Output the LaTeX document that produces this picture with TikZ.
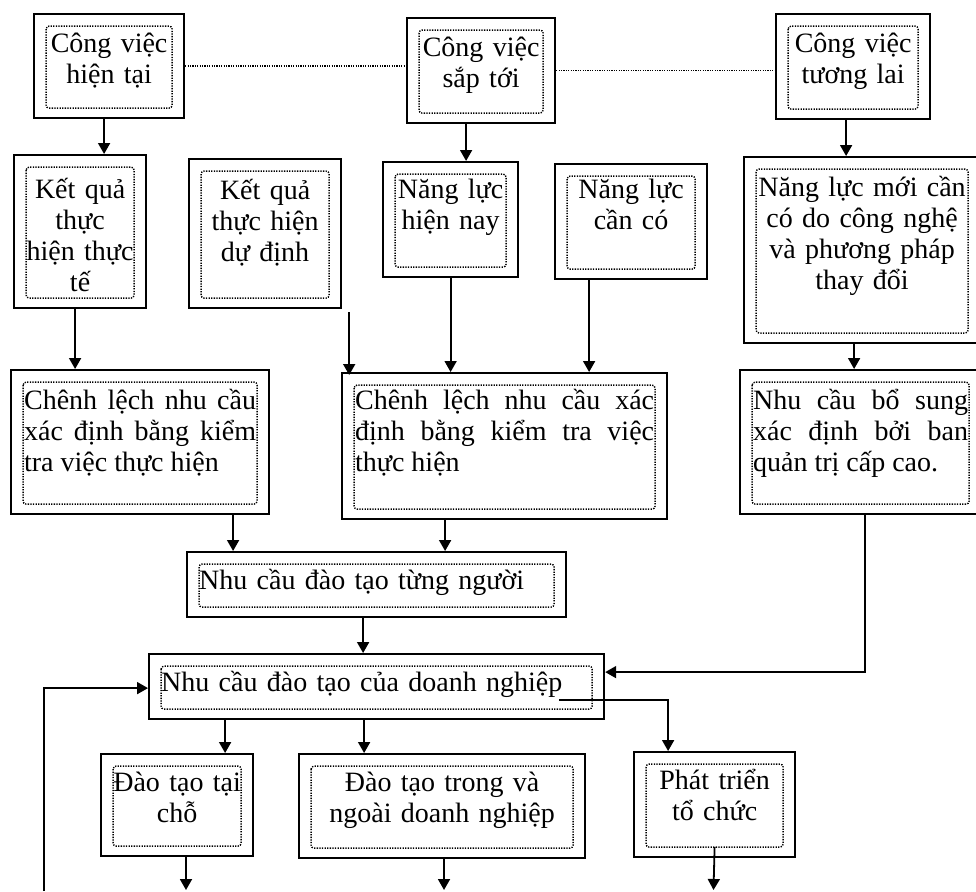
\documentclass[tikz,border=0pt]{standalone}
\usepackage{fontspec}
\setmainfont{Liberation Serif}
\usetikzlibrary{arrows.meta}

\tikzset{
  hop/.style={draw, line width=2.2pt, anchor=north west, inner xsep=6pt, inner ysep=0pt,
    text height=38pt, align=center, font=\fontsize{28}{31}\selectfont,
    path picture={\draw[vien] ([shift={(12pt,-12pt)}]path picture bounding box.north west)
      rectangle ([shift={(-12pt,10pt)}]path picture bounding box.south east);}},
  vien/.style={line width=1.4pt, dash pattern=on 1.3pt off 1.3pt, rounded corners=3pt},
  mui/.style={line width=1.8pt, -{Triangle[width=12pt,length=11pt]}},
  noi/.style={line width=1.3pt, dash pattern=on 1.2pt off 1.2pt},
}

\begin{document}
\begin{tikzpicture}[x=1pt,y=-1pt]
\useasboundingbox (0,0) rectangle (976,891);

% Cong viec (top row)
\node[hop, minimum width=150pt, text width=138pt, text depth=66pt] (cvht) at (33,13) {Công việc\\hiện tại};
\node[hop, minimum width=148pt, text width=136pt, text depth=67pt] (cvst) at (406,17) {Công việc\\sắp tới};
\node[hop, minimum width=154pt, text width=142pt, text depth=67pt] (cvtl) at (775,13) {Công việc\\tương lai};

% Ket qua / nang luc
\node[hop, minimum width=132pt, text width=120pt, text height=43pt, text depth=110pt] (kqtt) at (13,154) {Kết quả\\thực\\hiện thực\\tế};
\node[hop, minimum width=152pt, text width=140pt, text height=40pt, text depth=109pt] (kqdd) at (188,158) {Kết quả\\thực hiện\\dự định};
\node[hop, minimum width=135pt, text width=123pt, text height=36pt, text depth=79pt] (nlhn) at (382,161) {Năng lực\\hiện nay};
\node[hop, minimum width=152pt, text width=140pt, text height=34pt, text depth=81pt] (nlcc) at (554,163) {Năng lực\\cần có};
\node[hop, minimum width=236pt, text width=224pt, text height=39pt, text depth=147pt] (nlm) at (743,156) {Năng lực mới cần\\có do công nghệ\\và phương pháp\\thay đổi};

% Chenh lech nhu cau
\node[hop, minimum width=258pt, text width=232pt, align=justify, text height=39pt, text depth=105pt] (cltt) at (10,369)
  {Chênh lệch nhu cầu\linebreak xác định bằng kiểm\linebreak tra việc thực hiện};
\node[hop, minimum width=325pt, text width=299pt, align=justify, text height=36pt, text depth=110pt] (clkt) at (341,372)
  {Chênh lệch nhu cầu xác\linebreak định bằng kiểm tra việc\linebreak thực hiện};
\node[hop, minimum width=241pt, text width=215pt, align=justify, text height=39pt, text depth=105pt] (ncbs) at (739,369)
  {Nhu cầu bổ sung\linebreak xác định bởi ban\linebreak quản trị cấp cao.};

% Nhu cau dao tao
\node[hop, minimum width=379pt, text width=355pt, align=left, text height=37pt, text depth=28pt] (nctn) at (186,551) {Nhu cầu đào tạo từng người};
\node[hop, minimum width=455pt, text width=431pt, align=left, text height=37pt, text depth=28pt] (ncdn) at (148,653) {Nhu cầu đào tạo của doanh nghiệp};

% Hinh thuc dao tao
\node[hop, minimum width=152pt, text width=140pt, text height=37pt, text depth=65pt] (dttc) at (100,753) {Đào tạo tại\\chỗ};
\node[hop, minimum width=286pt, text width=274pt, text height=37pt, text depth=67pt] (dttn) at (298,753) {Đào tạo trong và\\ngoài doanh nghiệp};
\node[hop, minimum width=161pt, text width=149pt, text height=37pt, text depth=68pt] (ptc) at (633,751) {Phát triển\\tổ chức};

% dotted links between jobs
\draw[noi] (cvht.east) -- (cvht.east -| cvst.west);
\draw[noi] (cvst.east) -- (cvst.east -| cvtl.west);

% arrows
\draw[mui] ([xshift=-5pt]cvht.south) -- ([xshift=-5pt]cvht.south |- kqtt.north);
\draw[mui] ([xshift=-15pt]cvst.south) -- ([xshift=-15pt]cvst.south |- nlhn.north);
\draw[mui] ([xshift=-7pt]cvtl.south) -- ([xshift=-7pt]cvtl.south |- nlm.north);
\draw[mui] ([xshift=-5pt]kqtt.south) -- ([xshift=-5pt]kqtt.south |- cltt.north);
\draw[mui] ([shift={(7pt,-3pt)}]kqdd.south east) -- ([shift={(7pt,-3pt)}]kqdd.south east |- clkt.north);
\draw[mui] (nlhn.south) -- (nlhn.south |- clkt.north);
\draw[mui] ([xshift=-42pt]nlcc.south) -- ([xshift=-42pt]nlcc.south |- clkt.north);
\draw[mui] ([xshift=-8pt]nlm.south) -- ([xshift=-8pt]nlm.south |- ncbs.north);
\draw[mui] ([xshift=93pt]cltt.south) -- ([xshift=93pt]cltt.south |- nctn.north);
\draw[mui] ([xshift=-59.5pt]clkt.south) -- ([xshift=-59.5pt]clkt.south |- nctn.north);
\draw[mui] ([xshift=-13.5pt]nctn.south) -- ([xshift=-13.5pt]nctn.south |- ncdn.north);
\draw[mui] ([xshift=4.5pt]ncbs.south) |- ([yshift=14.5pt]ncdn.east);

% feedback loop
\coordinate (vao) at (44,891);
\draw[mui] (vao) |- ([yshift=-1.5pt]ncdn.west);

\draw[mui] ([xshift=-151.5pt]ncdn.south) -- ([xshift=-151.5pt]ncdn.south |- dttc.north);
\draw[mui] ([xshift=-12.5pt]ncdn.south) -- ([xshift=-12.5pt]ncdn.south |- dttn.north);
\draw[mui] ([shift={(182.5pt,-13.5pt)}]ncdn.center) -| ([xshift=-46.5pt]ptc.north);

% outputs
\coordinate (ra1) at (186,890);
\coordinate (ra2) at (444,890);
\coordinate (ra3) at (713.5,890);
\draw[mui] (dttc.south -| ra1) -- (ra1);
\draw[mui] (dttn.south -| ra2) -- (ra2);
\draw[mui] ([yshift=11pt]ptc.south) -- (ra3);

\end{tikzpicture}
\end{document}
